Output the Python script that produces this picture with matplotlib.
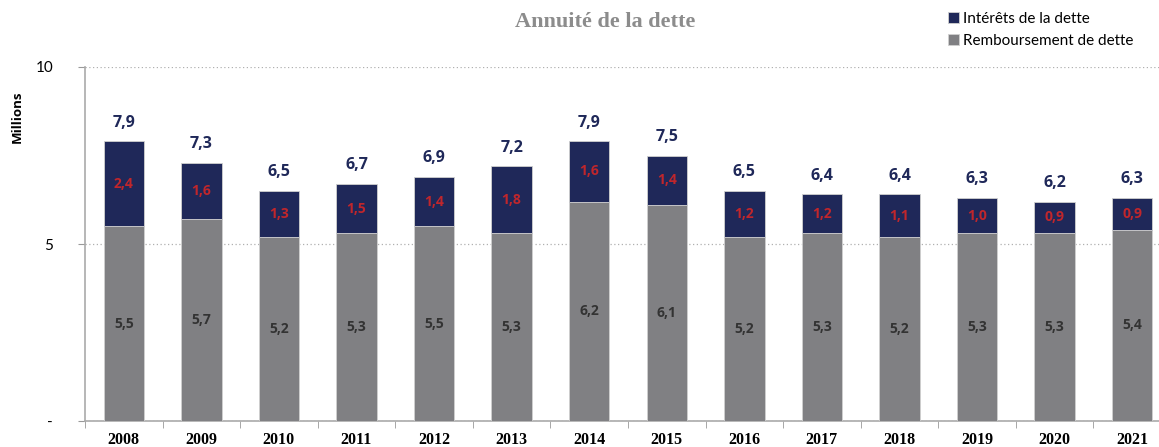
import numpy as np
import matplotlib
matplotlib.use("Agg")
import matplotlib.pyplot as plt
from matplotlib.ticker import FixedLocator

years = ["2008", "2009", "2010", "2011", "2012", "2013", "2014",
         "2015", "2016", "2017", "2018", "2019", "2020", "2021"]
remboursement = [5.5, 5.7, 5.2, 5.3, 5.5, 5.3, 6.2, 6.1, 5.2, 5.3, 5.2, 5.3, 5.3, 5.4]
interets = [2.4, 1.6, 1.3, 1.5, 1.4, 1.8, 1.6, 1.4, 1.2, 1.2, 1.1, 1.0, 0.9, 0.9]
totaux = [7.9, 7.3, 6.5, 6.7, 6.9, 7.2, 7.9, 7.5, 6.5, 6.4, 6.4, 6.3, 6.2, 6.3]

navy = "#1f2859"
grey = "#808083"
red = "#c0262c"
lab_font = "Open Sans"

def fr(v):
    return f"{v:.1f}".replace(".", ",")

fig = plt.figure(figsize=(11.59, 4.47), dpi=100)
ax = fig.add_axes([85 / 1159, 1 - 421 / 447, (1159 - 85) / 1159, (421 - 67) / 447])

x = np.arange(len(years))
w = 0.52
# the stacked top follows the (rounded) total shown above each bar
haut = [t - r for t, r in zip(totaux, remboursement)]
ax.bar(x, remboursement, w, color=grey, edgecolor="#d0d0d0", linewidth=0.6,
       label="Remboursement de dette", zorder=3)
ax.bar(x, haut, w, bottom=remboursement, color=navy, edgecolor="#d0d0d0",
       linewidth=0.6, label="Intérêts de la dette", zorder=3)

for i in range(len(years)):
    ax.text(x[i], remboursement[i] / 2, fr(remboursement[i]), ha="center", va="center",
            fontsize=10, fontweight="bold", color="#333333", family=lab_font, zorder=4)
    ax.text(x[i], remboursement[i] + haut[i] / 2, fr(interets[i]), ha="center",
            va="center", fontsize=10, fontweight="bold", color=red, family=lab_font, zorder=4)
    ax.text(x[i], totaux[i] + 0.3, fr(totaux[i]), ha="center",
            va="bottom", fontsize=11.5, fontweight="bold", color=navy, family=lab_font, zorder=4)

ax.set_xlim(-0.5, 13.5 - 12 / 77.5)
ax.set_ylim(0, 10)

ax.set_yticks([0, 5, 10])
ax.set_yticklabels(["-", "5", "10"], family="Lato", fontsize=11)
ax.yaxis.grid(True, linestyle=(0, (1, 2)), color="#b0b0b0", linewidth=0.9, zorder=0)
ax.tick_params(axis="y", length=5, color="#999999", pad=18)

ax.set_xticks(x)
ax.set_xticklabels(years, family="Liberation Serif", fontweight="bold", fontsize=11.5)
ax.tick_params(axis="x", which="major", length=0, pad=8)
ax.xaxis.set_minor_locator(FixedLocator(np.arange(-0.5, 14, 1)))
ax.tick_params(axis="x", which="minor", length=5, color="#999999")

for s in ["top", "right"]:
    ax.spines[s].set_visible(False)
for s in ["left", "bottom"]:
    ax.spines[s].set_color("#aaaaaa")
    ax.spines[s].set_linewidth(1.2)

fig.text(605 / 1159, 1 - 22 / 447, "Annuité de la dette", ha="center", va="center",
         family="Liberation Serif", fontweight="bold", fontsize=16, color="#8c8c8c")
fig.text(17 / 1159, 1 - 117 / 447, "Millions", rotation=90, ha="center", va="center",
         family=lab_font, fontweight="bold", fontsize=9.5, color="black")

h, l = ax.get_legend_handles_labels()
fig.legend(h[::-1], l[::-1], loc="upper left", bbox_to_anchor=(942 / 1159, 1 - 6 / 447),
           frameon=False, prop={"family": "Lato", "size": 11}, handlelength=0.7,
           handleheight=0.7, handletextpad=0.3, labelspacing=0.5, borderaxespad=0)

fig.savefig("out.png", dpi=100)
